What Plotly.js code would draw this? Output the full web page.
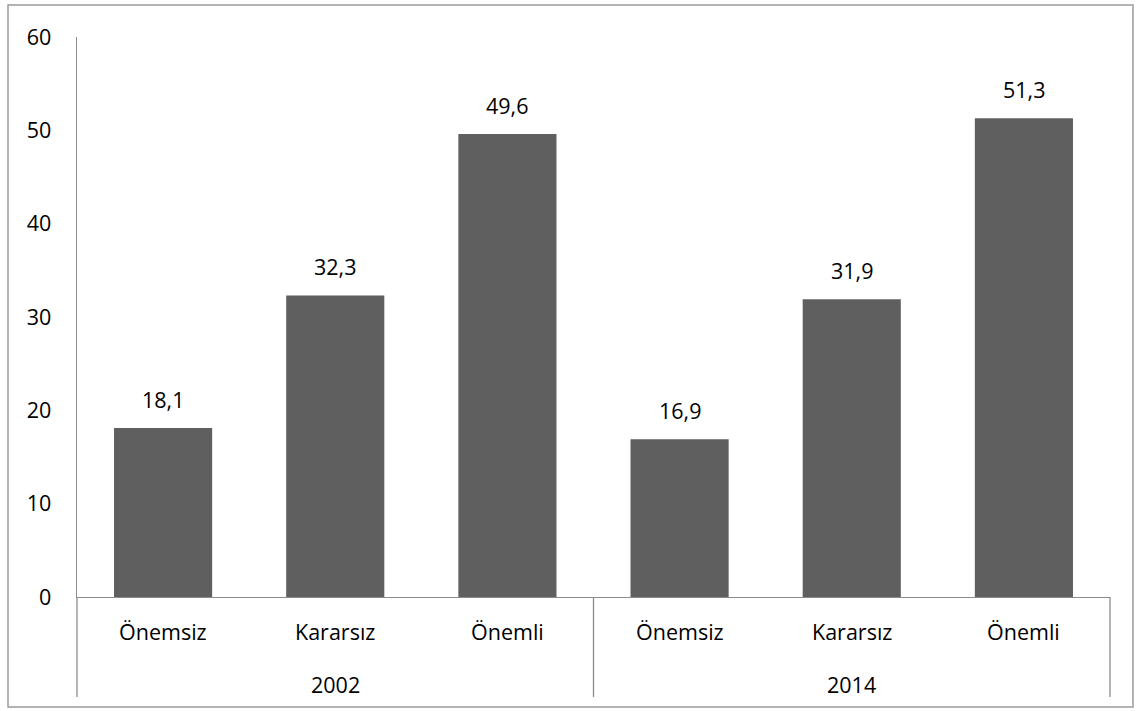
<!DOCTYPE html>
<html>
<head>
<meta charset="utf-8">
<script src="https://cdn.plot.ly/plotly-3.0.1.min.js"></script>
<style>html,body{margin:0;padding:0;background:#fff;}#chart{width:1141px;height:711px;}</style>
</head>
<body>
<div id="chart"></div>
<script>
const categories = ["Önemsiz", "Kararsız", "Önemli", "Önemsiz", "Kararsız", "Önemli"];
const groups = ["2002", "2014"];
const values = [18.1, 32.3, 49.6, 16.9, 31.9, 51.3];
const yTicks = [0, 10, 20, 30, 40, 50, 60];

const xs = categories.map((c, i) => i);
const fontFam = "'Open Sans', 'Liberation Sans', sans-serif";
const FS = 21.5;

const trace = {
  type: 'bar',
  x: xs,
  y: values,
  width: 0.57,
  marker: {color: '#5f5f5f'},
  hoverinfo: 'none'
};

// plot area pixel geometry
const L = 77, R = 1110, T = 37, B = 597;
const W = R - L, H = B - T;
const px = x => (x - L) / W;
const py = y => (B - y) / H;

const lineStyle = {color: '#8c8c8c', width: 1.3};
const shapes = [
  {type: 'rect', xref: 'paper', yref: 'paper', x0: px(8), x1: px(1133), y0: py(707), y1: py(5), line: {color: '#9a9a9a', width: 1.5}},
  {type: 'line', xref: 'paper', yref: 'paper', x0: 0, x1: 0, y0: py(697), y1: 0, line: lineStyle},
  {type: 'line', xref: 'x', yref: 'paper', x0: 2.5, x1: 2.5, y0: py(697), y1: 0, line: lineStyle},
  {type: 'line', xref: 'paper', yref: 'paper', x0: 1, x1: 1, y0: py(697), y1: 0, line: lineStyle}
];

const annotations = [];
values.forEach((v, i) => {
  annotations.push({x: i, xref: 'x', y: v, yref: 'y', text: v.toFixed(1).replace('.', ','), showarrow: false,
    font: {family: fontFam, size: FS, color: '#000'}, xanchor: 'center', yanchor: 'middle', yshift: 29});
});
categories.forEach((c, i) => {
  annotations.push({x: i, xref: 'x', y: py(631), yref: 'paper', text: c, showarrow: false,
    font: {family: fontFam, size: FS, color: '#000'}, xanchor: 'center', yanchor: 'middle'});
});
groups.forEach((g, gi) => {
  annotations.push({x: gi * 3 + 1, xref: 'x', y: py(684), yref: 'paper', text: g, showarrow: false,
    font: {family: fontFam, size: FS, color: '#000'}, xanchor: 'center', yanchor: 'middle'});
});

const layout = {
  width: 1141, height: 711,
  margin: {l: L, r: 1141 - R, t: T, b: 711 - B},
  paper_bgcolor: '#fff', plot_bgcolor: '#fff',
  showlegend: false,
  xaxis: {range: [-0.5, 5.5], showticklabels: false, ticks: '', showgrid: false, zeroline: false,
    showline: true, linecolor: '#8c8c8c', linewidth: 1.3, fixedrange: true},
  yaxis: {range: [0, 60], tickvals: yTicks, ticktext: yTicks.map(String), showgrid: false, zeroline: false,
    showline: true, linecolor: '#8c8c8c', linewidth: 1.3, ticks: '', ticklabelstandoff: 20,
    tickfont: {family: fontFam, size: FS, color: '#000'}, fixedrange: true},
  shapes: shapes,
  annotations: annotations
};

Plotly.newPlot('chart', [trace], layout, {staticPlot: true, displayModeBar: false});
</script>
</body>
</html>
